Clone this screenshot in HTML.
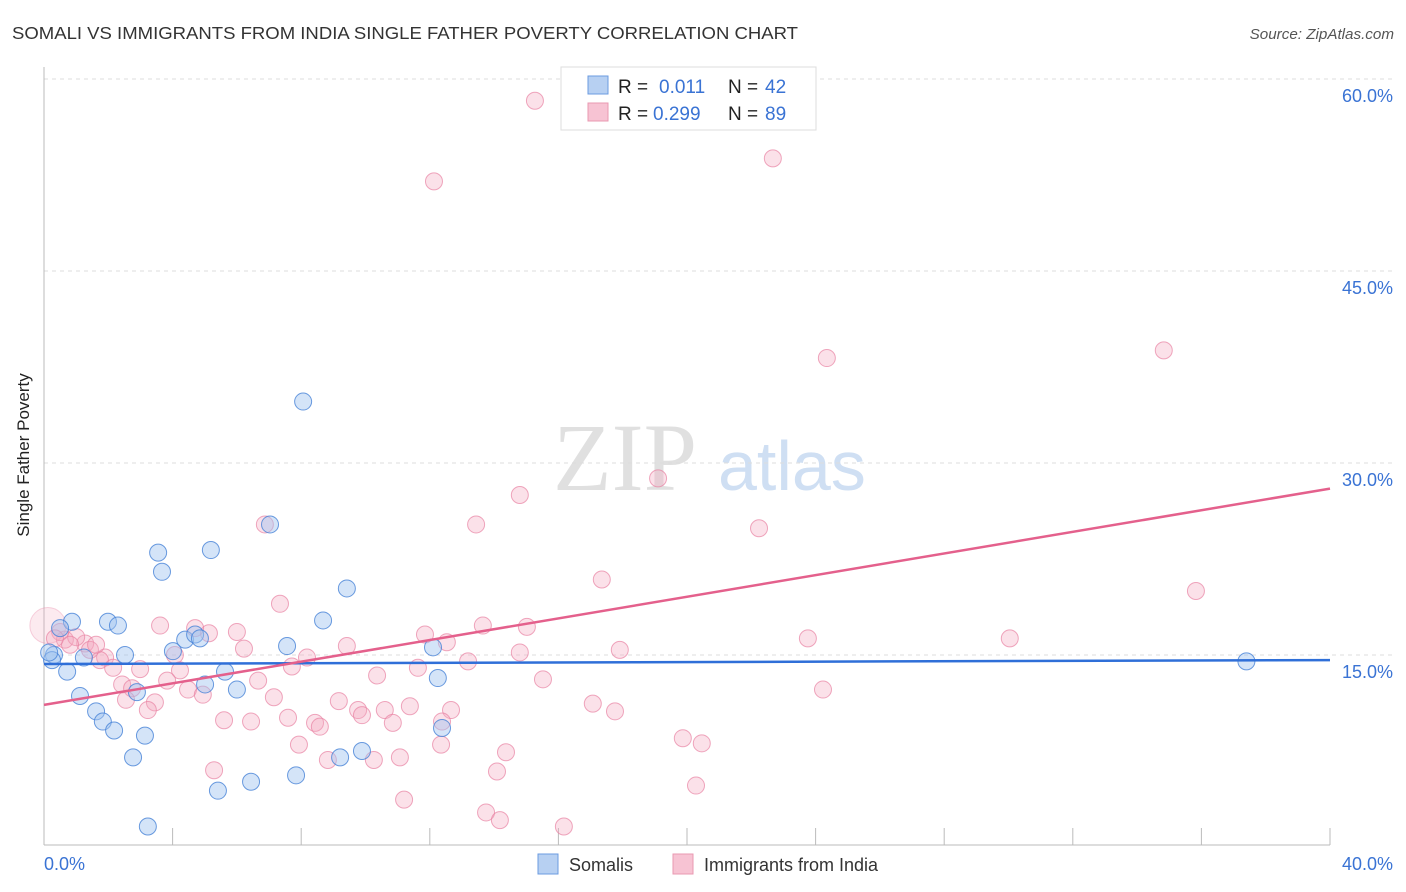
<!DOCTYPE html>
<html><head><meta charset="utf-8"><style>
body{margin:0;background:#fff;font-family:"Liberation Sans",sans-serif}
svg{display:block}
</style></head><body>
<svg id="chart" width="1406" height="892">
<text x="12" y="39" font-size="17.5" fill="#333" textLength="786" lengthAdjust="spacingAndGlyphs">SOMALI VS IMMIGRANTS FROM INDIA SINGLE FATHER POVERTY CORRELATION CHART</text>
<text x="1394" y="39" font-size="15.2" fill="#555" font-style="italic" text-anchor="end">Source: ZipAtlas.com</text>
<g>
<text x="553" y="490" font-size="96" font-family="Liberation Serif,serif" fill="#e0e0e0">ZIP</text>
<text x="718" y="490" font-size="70" fill="#cfdff3">atlas</text>
</g>
<g id="grid"></g>
<line x1="44" y1="67" x2="44" y2="845" stroke="#bbb"/>
<line x1="44" y1="845" x2="1330" y2="845" stroke="#bbb"/>
<text x="29" y="455" font-size="17" fill="#222" text-anchor="middle" transform="rotate(-90 29 455)">Single Father Poverty</text>
<g id="pts"></g>
<g id="lines"></g>
<g>
<rect x="561" y="67" width="255" height="63" fill="#fff" stroke="#ddd"/>
<rect x="588" y="76" width="20" height="18" fill="#b7d0f2" stroke="#6b9be0"/>
<rect x="588" y="103" width="20" height="18" fill="#f7c3d3" stroke="#ea98b2"/>
<text x="618" y="93" font-size="19" fill="#222">R =</text><text x="659" y="93" font-size="19" fill="#3a73d4">0.011</text>
<text x="728" y="93" font-size="19" fill="#222">N =</text><text x="765" y="93" font-size="19" fill="#3a73d4">42</text>
<text x="618" y="120" font-size="19" fill="#222">R =</text><text x="653" y="120" font-size="19" fill="#3a73d4">0.299</text>
<text x="728" y="120" font-size="19" fill="#222">N =</text><text x="765" y="120" font-size="19" fill="#3a73d4">89</text>
</g>
<g>
<rect x="538" y="854" width="20" height="20" fill="#b7d0f2" stroke="#6b9be0"/>
<text x="569" y="871" font-size="18" fill="#333">Somalis</text>
<rect x="673" y="854" width="20" height="20" fill="#f7c3d3" stroke="#ea98b2"/>
<text x="704" y="871" font-size="18" fill="#333">Immigrants from India</text>
</g>
</svg>
<script>
const yTicks=[15,30,45,60];
const yTickLabels=["15.0%","30.0%","45.0%","60.0%"];
const xTicks=[0,4,8,12,16,20,24,28,32,36,40];
const xEndLabels=["0.0%","40.0%"];
const somaliX=[8.06,7.03,3.55,5.19,3.67,9.42,0.87,1.99,2.30,8.68,0.50,7.56,12.1,4.01,4.39,4.70,4.85,2.52,1.24,0.31,0.25,0.72,5.63,5.01,6.00,12.25,2.89,1.12,1.62,1.83,2.18,3.14,12.38,9.89,9.21,2.77,7.84,6.44,5.41,3.23,37.4,0.16];
const somaliY=[34.8,25.2,23.0,23.2,21.5,20.2,17.6,17.6,17.3,17.7,17.1,15.7,15.6,15.3,16.2,16.6,16.3,15.0,14.8,15.0,14.6,13.7,13.7,12.7,12.3,13.2,12.1,11.8,10.6,9.8,9.1,8.7,9.3,7.5,7.0,7.0,5.6,5.1,4.4,1.6,14.5,15.2];
const indiaX=[15.27,22.67,12.13,24.35,34.83,19.1,14.8,13.44,22.24,6.87,17.35,35.83,7.34,13.65,15.02,3.61,5.13,6.0,4.70,11.85,12.53,17.91,23.76,30.04,9.42,6.22,4.07,1.90,14.80,13.19,8.18,7.71,1.74,2.15,2.99,11.63,10.36,6.66,4.23,3.83,15.52,24.23,2.43,4.48,2.74,4.94,7.15,9.17,2.55,3.45,3.23,17.07,17.76,12.66,11.38,10.6,9.77,9.89,5.60,6.44,7.59,8.43,8.58,10.85,12.38,19.87,20.46,7.93,12.35,14.37,8.83,10.26,11.07,5.29,14.09,20.28,11.2,13.75,14.18,16.17,1.28,0.65,1.0,0.5,0.81,1.43,0.12,0.34,1.62];
const indiaY=[58.3,53.8,52.0,38.2,38.8,28.8,27.5,25.2,24.9,25.2,20.9,20.0,19.0,17.3,17.2,17.3,16.7,16.8,17.1,16.6,16.0,15.4,16.3,16.3,15.7,15.5,15.0,14.8,15.2,14.5,14.8,14.1,14.6,14.0,13.9,14.0,13.4,13.0,13.8,13.0,13.1,12.3,12.7,12.3,12.4,11.9,11.7,11.4,11.5,11.3,10.7,11.2,10.6,10.7,11.0,10.7,10.7,10.3,9.9,9.8,10.1,9.7,9.4,9.7,9.8,8.5,8.1,8.0,8.0,7.4,6.8,6.8,7.0,6.0,5.9,4.8,3.7,2.7,2.1,1.6,15.9,16.2,16.4,16.8,15.8,15.4,17.3,16.3,15.8];
const trendSomali=[14.3,14.6];
const trendIndia=[11.1,28.0];
const NS="http://www.w3.org/2000/svg";
const X=v=>44+v/40*1286, Y=v=>847-v/15*192;
function mk(t,a,p){const e=document.createElementNS(NS,t);for(const k in a)e.setAttribute(k,a[k]);p.appendChild(e);return e;}
const grid=document.getElementById('grid');
yTicks.forEach((t,i)=>{
 const l=mk('line',{x1:44,x2:1394,y1:Y(t),y2:Y(t),stroke:'#ddd','stroke-dasharray':'4,4'},grid);
 
 
 const tx=mk('text',{x:1393,y:Y(t)+23,'font-size':18,fill:'#3a73d4','text-anchor':'end'},grid);
 tx.textContent=yTickLabels[i];
 
 
});
xTicks.forEach(t=>{
 const l=mk('line',{x1:X(t),x2:X(t),y1:828,y2:845,stroke:'#bbb'},grid);
 
 
});
[[0,44,'start'],[40,1393,'end']].forEach((d,i)=>{
 const tx=mk('text',{x:d[1],y:870,'font-size':18,fill:'#3a73d4','text-anchor':d[2]},grid);
 tx.textContent=xEndLabels[i];
 
 
});
const pts=document.getElementById('pts');
indiaX.forEach((x,i)=>{
 const big=x<0.2;
 const c=mk('circle',{cx:X(x),cy:Y(indiaY[i]),r:(big?18:8.5),fill:big?'rgba(244,170,193,0.25)':'rgba(244,170,193,0.35)',stroke:big?'rgba(232,130,163,0.35)':'rgba(232,130,163,0.7)','stroke-width':1},pts);
 
 
});
somaliX.forEach((x,i)=>{
 const c=mk('circle',{cx:X(x),cy:Y(somaliY[i]),r:8.5,fill:'rgba(160,195,240,0.45)',stroke:'rgba(70,130,215,0.8)','stroke-width':1},pts);
 
 
});
const lines=document.getElementById('lines');
const ls=mk('line',{x1:X(0),y1:Y(trendSomali[0]),x2:X(40),y2:Y(trendSomali[1]),stroke:'#2f6fd8','stroke-width':2.5},lines);


const li=mk('line',{x1:X(0),y1:Y(trendIndia[0]),x2:X(40),y2:Y(trendIndia[1]),stroke:'#e4608c','stroke-width':2.5},lines);


</script>
</body></html>
